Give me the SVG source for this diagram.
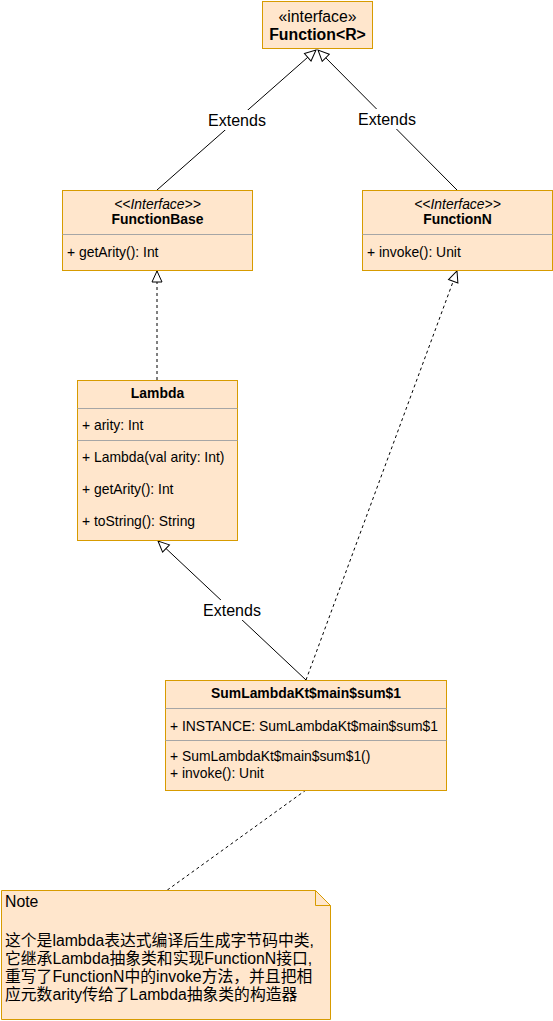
<svg xmlns="http://www.w3.org/2000/svg" width="553" height="1021" viewBox="0 0 553 1021">
<style>
.box{fill:#ffe6cc;stroke:#d79b00;stroke-width:1}
.div{stroke:#a6a6a6;stroke-width:1}
text{font-family:"Liberation Sans",Arial,"Noto Sans CJK SC",sans-serif;fill:#000}
.t{font-size:13.9px}
.b{font-size:13.9px;font-weight:bold}
.i{font-size:13.9px;font-style:italic}
.lbl{font-size:16px}
.n{font-size:15.8px}
.line{stroke:#000;stroke-width:1;fill:none}
.dash{stroke:#000;stroke-width:1;fill:none;stroke-dasharray:3 3}
.head{fill:#fff;stroke:#000;stroke-width:1}
</style>
<defs>
<marker id="tri" viewBox="0 0 13 13" refX="12" refY="6.5" markerWidth="13" markerHeight="13" markerUnits="userSpaceOnUse" orient="auto">
<path d="M1,1.500 L12,6.500 L1,11.500 Z" class="head"/>
</marker>
</defs>
<g id="connectors">
<path class="line" d="M157,190 L316,50" marker-end="url(#tri)"/>
<path class="line" d="M457,190 L318,50" marker-end="url(#tri)"/>
<path class="dash" d="M157,380 L157,271" marker-end="url(#tri)"/>
<path class="line" d="M306,680 L158,541" marker-end="url(#tri)"/>
<path class="dash" d="M306,680 L457,271" marker-end="url(#tri)"/>
<path class="dash" d="M306,790 L166,891"/>
<rect x="205" y="110" width="64" height="20" fill="#fff"/>
<text class="lbl" x="237" y="126" text-anchor="middle">Extends</text>
<rect x="355" y="109" width="64" height="20" fill="#fff"/>
<text class="lbl" x="387" y="125" text-anchor="middle">Extends</text>
<rect x="200" y="600" width="64" height="20" fill="#fff"/>
<text class="lbl" x="232" y="616" text-anchor="middle">Extends</text>
</g>
<g id="function">
<rect class="box" x="262.500" y="1.500" width="110" height="47"/>
<text x="317.500" y="22" text-anchor="middle" style="font-size:15.8px">«interface»</text>
<text x="317.500" y="40" text-anchor="middle" style="font-size:15.8px;font-weight:bold">Function&lt;R&gt;</text>
</g>
<g id="functionbase">
<rect class="box" x="62.500" y="190.500" width="190" height="80"/>
<line class="div" x1="62.500" y1="234.500" x2="252.500" y2="234.500"/>
<text class="i" x="157.500" y="209" text-anchor="middle">&lt;&lt;Interface&gt;&gt;</text>
<text class="b" x="157.500" y="224" text-anchor="middle">FunctionBase</text>
<text class="t" x="67" y="257">+ getArity(): Int</text>
</g>
<g id="functionn">
<rect class="box" x="362.500" y="190.500" width="190" height="80"/>
<line class="div" x1="362.500" y1="234.500" x2="552.500" y2="234.500"/>
<text class="i" x="457.500" y="209" text-anchor="middle">&lt;&lt;Interface&gt;&gt;</text>
<text class="b" x="457.500" y="224" text-anchor="middle">FunctionN</text>
<text class="t" x="367" y="257">+ invoke(): Unit</text>
</g>
<g id="lambda">
<rect class="box" x="77.500" y="380.500" width="160" height="160"/>
<line class="div" x1="77.500" y1="408.500" x2="237.500" y2="408.500"/>
<line class="div" x1="77.500" y1="440.500" x2="237.500" y2="440.500"/>
<text class="b" x="157.500" y="398" text-anchor="middle">Lambda</text>
<text class="t" x="82" y="430">+ arity: Int</text>
<text class="t" x="82" y="462">+ Lambda(val arity: Int)</text>
<text class="t" x="82" y="494">+ getArity(): Int</text>
<text class="t" x="82" y="526">+ toString(): String</text>
</g>
<g id="sumlambda">
<rect class="box" x="165.500" y="680.500" width="281" height="110"/>
<line class="div" x1="165.500" y1="708.500" x2="446.500" y2="708.500"/>
<line class="div" x1="165.500" y1="740.500" x2="446.500" y2="740.500"/>
<text class="b" x="306" y="698" text-anchor="middle">SumLambdaKt$main$sum$1</text>
<text class="t" x="170" y="731">+ INSTANCE: SumLambdaKt$main$sum$1</text>
<text class="t" x="170" y="761">+ SumLambdaKt$main$sum$1()</text>
<text class="t" x="170" y="778">+ invoke(): Unit</text>
</g>
<g id="note">
<path class="box" d="M1.500,890.500 L315.500,890.500 L330.500,905.500 L330.500,1019.500 L1.500,1019.500 Z"/>
<path d="M315.500,890.500 L315.500,905.500 L330.500,905.500" fill="none" stroke="#d79b00"/>
<text class="n" x="5" y="907">Note</text>
<text class="n" x="5" y="946">这个是lambda表达式编译后生成字节码中类,</text>
<text class="n" x="5" y="964">它继承Lambda抽象类和实现FunctionN接口,</text>
<text class="n" x="5" y="982">重写了FunctionN中的invoke方法，并且把相</text>
<text class="n" x="5" y="1000">应元数arity传给了Lambda抽象类的构造器</text>
</g>
</svg>
